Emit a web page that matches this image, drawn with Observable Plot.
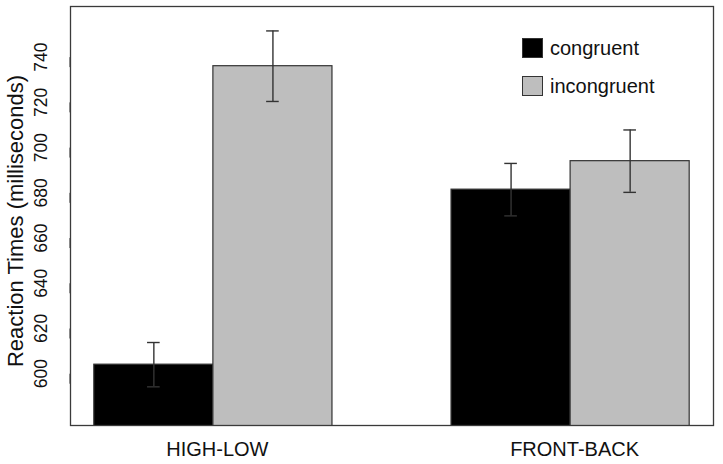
<!DOCTYPE html>
<html>
<head>
<meta charset="utf-8">
<script src="https://cdn.jsdelivr.net/npm/d3@7"></script>
<script src="https://cdn.jsdelivr.net/npm/@observablehq/plot@0.6"></script>
<style>
  html, body { margin: 0; padding: 0; background: white; }
  #wrap { position: relative; width: 723px; height: 464px; font-family: "Liberation Sans", Arial, Helvetica, sans-serif; }
  #legend { position: absolute; left: 522px; top: 38px; font-size: 20px; color: #111; }
  .row { display: flex; align-items: center; height: 20px; margin-bottom: 18px; }
  .sw { width: 19px; height: 18px; border: 1px solid #333; margin-right: 7px; }
</style>
</head>
<body>
<div id="wrap"><div id="legend"></div></div>
<script>
// Data
const groups = ["HIGH-LOW", "FRONT-BACK"];
const conditions = ["congruent", "incongruent"];
const congruentMeans = [604.0, 681.4];
const incongruentMeans = [736.0, 694.0];
const congruentErr = [9.8, 11.6];
const incongruentErr = [15.6, 13.8];
const yTicks = [600, 620, 640, 660, 680, 700, 720, 740];
const yTitle = ["Reaction Times (milliseconds)"];
const colors = ["#000000", "#bebebe"];

// R barplot(beside=TRUE) layout: space 1 before each group, bar width 1
const xDomain = [0.8, 6.2];
const yDomain = [577.1, 762.4];
const cap = 0.053;

const bars = [];
groups.forEach((g, i) => {
  [congruentMeans, incongruentMeans].forEach((means, j) => {
    const err = j === 0 ? congruentErr[i] : incongruentErr[i];
    const left = 1 + 3 * i + j;
    bars.push({group: g, condition: conditions[j], value: means[i], err,
               x1: left, x2: left + 1, xc: left + 0.5});
  });
});
const groupCenters = groups.map((g, i) => 2 + 3 * i);

const chart = Plot.plot({
  width: 723,
  height: 464,
  marginLeft: 70,
  marginRight: 10,
  marginTop: 6,
  marginBottom: 39,
  style: {fontFamily: "'Liberation Sans', Arial, Helvetica, sans-serif", background: "white", color: "#111"},
  x: {domain: xDomain},
  y: {domain: yDomain},
  color: {domain: conditions, range: colors},
  marks: [
    Plot.rect(bars, {x1: "x1", x2: "x2", y1: 0, y2: "value", fill: "condition", stroke: "#333", strokeWidth: 1.2, clip: true}),
    Plot.ruleX(bars, {x: "xc", y1: d => d.value - d.err, y2: d => d.value + d.err, stroke: "#333", strokeWidth: 1.4}),
    Plot.ruleY(bars, {y: d => d.value + d.err, x1: d => d.xc - cap, x2: d => d.xc + cap, stroke: "#333", strokeWidth: 1.4}),
    Plot.ruleY(bars, {y: d => d.value - d.err, x1: d => d.xc - cap, x2: d => d.xc + cap, stroke: "#333", strokeWidth: 1.4}),
    Plot.axisY({ticks: yTicks, tickSize: 10, tickPadding: 14, rotate: -90, textAnchor: "middle", lineAnchor: "bottom",
                fontSize: 17.5, stroke: "#333", label: null}),
    Plot.text(yTitle, {text: d => d, frameAnchor: "left", rotate: -90, textAnchor: "middle", lineAnchor: "bottom",
                       fontSize: 22, dx: -48, dy: 5, fill: "#111"}),
    Plot.axisX({ticks: groupCenters, tickSize: 0, tickPadding: 15.8, fontSize: 20, dx: 4,
                tickFormat: d => groups[groupCenters.indexOf(d)], label: null}),
    Plot.frame({stroke: "#3a3a3a", strokeWidth: 1.3})
  ]
});
const wrap = document.getElementById("wrap");
wrap.insertBefore(chart, wrap.firstChild);

const legend = document.getElementById("legend");
conditions.forEach((c, i) => {
  const row = document.createElement("div");
  row.className = "row";
  const sw = document.createElement("div");
  sw.className = "sw";
  sw.style.background = colors[i];
  const label = document.createElement("span");
  label.textContent = c;
  row.appendChild(sw);
  row.appendChild(label);
  legend.appendChild(row);
});
</script>
</body>
</html>
